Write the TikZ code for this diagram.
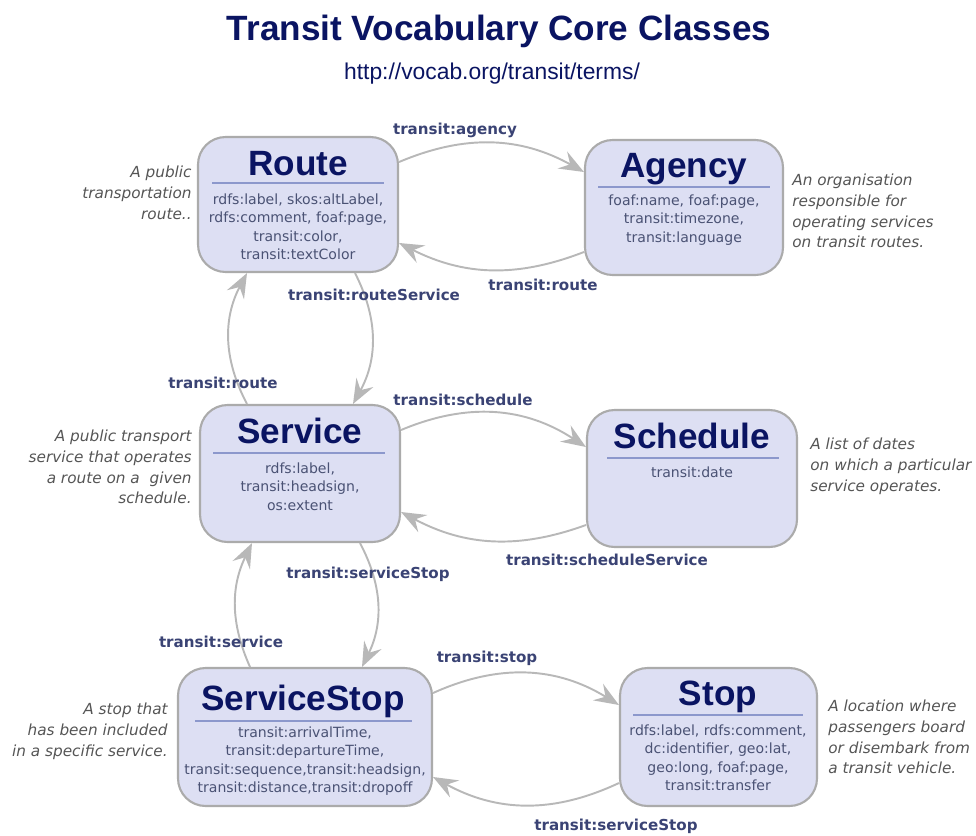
\documentclass[tikz,border=0pt]{standalone}
\usepackage{fontspec}
\setmainfont{DejaVu Sans}
\newfontfamily\headfont{Liberation Sans}
\usetikzlibrary{arrows.meta}

\definecolor{titleblue}{HTML}{0A1462}
\definecolor{boxfill}{HTML}{DDDFF3}
\definecolor{boxline}{HTML}{ABABAB}
\definecolor{sepblue}{HTML}{8C98CC}
\definecolor{attrgray}{HTML}{4A5274}
\definecolor{relblue}{HTML}{3A4374}
\definecolor{descgray}{HTML}{555555}
\definecolor{arrowgray}{HTML}{B8B8B8}

\tikzset{
  cls/.style={draw=boxline, fill=boxfill, line width=1.2pt, rounded corners=0.55cm, inner sep=0pt},
  clsname/.style={text=titleblue, font=\headfont\bfseries\fontsize{20}{24}\selectfont, anchor=base, inner sep=0pt},
  attr/.style={text=attrgray, font=\fontsize{8}{10.6}\selectfont, align=center, anchor=north, inner sep=0pt},
  sepline/.style={draw=sepblue, line width=0.6pt},
  rel/.style={text=relblue, font=\bfseries\fontsize{8.6}{10}\selectfont, inner sep=0pt},
  desc/.style={text=descgray, font=\itshape\fontsize{8.7}{11.7}\selectfont, inner sep=0pt},
  link/.style={draw=arrowgray, line width=1.1pt, -{Stealth[length=14pt, width=11pt, inset=5pt]}},
}

\begin{document}
\begin{tikzpicture}[x=0.02cm, y=-0.02cm]
        \useasboundingbox (0,0) rectangle (976,835);
        \node[clsname] (title) at (499,40) {Transit Vocabulary Core Classes};
        \node[anchor=base, inner sep=0pt, text=titleblue, font=\headfont\fontsize{13}{15}\selectfont] (subtitle) at (492,79) {http://vocab.org/transit/terms/};

        \node[cls, minimum width=4cm, minimum height=2.7cm] (route) at (298,204.5) {};
        \node[cls, minimum width=3.96cm, minimum height=2.7cm] (agency) at (684,207.5) {};
        \node[cls, minimum width=4cm, minimum height=2.74cm] (service) at (300,473.5) {};
        \node[cls, minimum width=4.2cm, minimum height=2.74cm] (schedule) at (692,478.5) {};
        \node[cls, minimum width=5.08cm, minimum height=2.76cm] (servicestop) at (305,737) {};
        \node[cls, minimum width=3.94cm, minimum height=2.76cm] (stop) at (718.5,737) {};

        \node[clsname] (routeName) at (298,175) {Route};
        \node[clsname] (agencyName) at (684,177) {Agency};
        \node[clsname] (serviceName) at (300,443) {Service};
        \node[clsname] (scheduleName) at (692,448) {Schedule};
        \node[clsname] (servicestopName) at (303,710) {ServiceStop};
        \node[clsname] (stopName) at (718,705) {Stop};

        \draw[sepline] (212,183) -- (384,183);
        \draw[sepline] (598,187) -- (770,187);
        \draw[sepline] (213,453) -- (385,453);
        \draw[sepline] (607,458) -- (779,458);
        \draw[sepline] (195,721) -- (412,721);
        \draw[sepline] (633,715) -- (803,715);

        \node[attr] (routeAttr) at (298,193) {rdfs:label, skos:altLabel,\\rdfs:comment, foaf:page,\\transit:color,\\transit:textColor};
        \node[attr] (agencyAttr) at (684,194) {foaf:name, foaf:page,\\transit:timezone,\\transit:language};
        \node[attr] (serviceAttr) at (300,462) {rdfs:label,\\transit:headsign,\\os:extent};
        \node[attr] (scheduleAttr) at (692,466) {transit:date};
        \node[attr] (servicestopAttr) at (305,726) {transit:arrivalTime,\\transit:departureTime,\\transit:sequence,transit:headsign,\\transit:distance,transit:dropoff};
        \node[attr] (stopAttr) at (718,724) {rdfs:label, rdfs:comment,\\dc:identifier, geo:lat,\\geo:long, foaf:page,\\transit:transfer};

        \node[desc, anchor=north east, align=right] (routeDesc) at (192,166) {A public\\transportation\\route..};
        \node[desc, anchor=north west, align=left] (agencyDesc) at (792,174) {An organisation\\responsible for\\operating services\\on transit routes.};
        \node[desc, anchor=north east, align=right] (serviceDesc) at (192,430) {A public transport\\service that operates\\a route on a~ given\\schedule.};
        \node[desc, anchor=north west, align=left] (scheduleDesc) at (810,438) {A list of dates\\on which a particular\\service operates.};
        \node[desc, anchor=north east, align=right] (servicestopDesc) at (168,703) {A stop that\\has been included\\in a specific service.};
        \node[desc, anchor=north west, align=left] (stopDesc) at (828,700) {A location where\\passengers board\\or disembark from\\a transit vehicle.};

        \draw[link] ([yshift=0.85cm]route.east) to[bend left=26] ([yshift=0.71cm]agency.west);
        \draw[link] ([yshift=-0.89cm]agency.west) to[bend left=24] ([yshift=-0.77cm]route.east);
        \draw[link] ([xshift=1.14cm]route.south) to[bend left=28] ([xshift=1.06cm]service.north);
        \draw[link] ([xshift=-1.06cm]service.north) to[bend left=28] ([xshift=-1.02cm]route.south);
        \draw[link] ([yshift=0.87cm]service.east) to[bend left=28] ([yshift=0.63cm]schedule.west);
        \draw[link] ([yshift=-0.93cm]schedule.west) to[bend left=24] ([yshift=-0.77cm]service.east);
        \draw[link] ([xshift=1.2cm]service.south) to[bend left=27] ([xshift=1.14cm]servicestop.north);
        \draw[link] ([xshift=-1.1cm]servicestop.north) to[bend left=25] ([xshift=-0.96cm]service.south);
        \draw[link] ([yshift=0.88cm]servicestop.east) to[bend left=28] ([yshift=0.64cm]stop.west);
        \draw[link] ([yshift=-0.92cm]stop.west) to[bend left=27] ([yshift=-0.8cm]servicestop.east);

        \node[rel] (agencyRel) at (455,130) {transit:agency};
        \node[rel] (routeRel) at (543,285) {transit:route};
        \node[rel] (routeServiceRel) at (374,295) {transit:routeService};
        \node[rel] (serviceRouteRel) at (223,383) {transit:route};
        \node[rel] (scheduleRel) at (463,400) {transit:schedule};
        \node[rel] (scheduleServiceRel) at (607,560) {transit:scheduleService};
        \node[rel] (serviceStopRel) at (368,574) {transit:serviceStop};
        \node[rel] (serviceRel) at (221,642) {transit:service};
        \node[rel] (stopRel) at (487,658) {transit:stop};
        \node[rel] (stopServiceStopRel) at (616,826) {transit:serviceStop};
      \end{tikzpicture}
\end{document}
